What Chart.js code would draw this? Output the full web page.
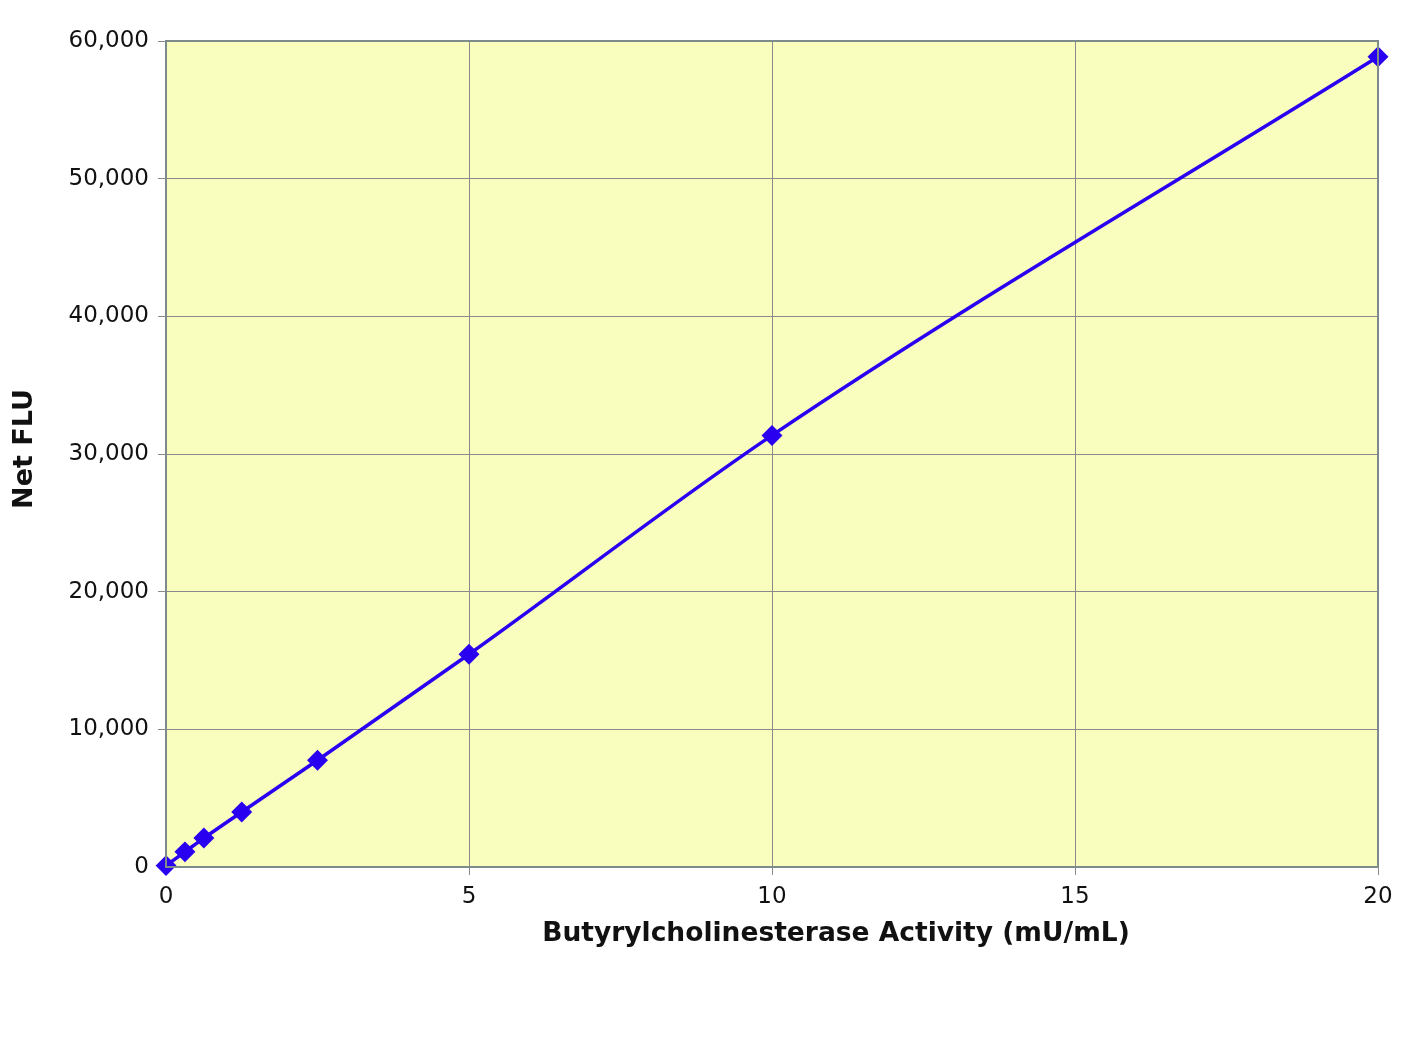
<!DOCTYPE html>
<html>
<head>
<meta charset="utf-8">
<script src="https://cdn.jsdelivr.net/npm/chart.js@4.4.0/dist/chart.umd.min.js"></script>
<style>
  html, body { margin: 0; padding: 0; background: #fff; }
  #wrap { width: 1415px; height: 1039px; }
</style>
</head>
<body>
<div id="wrap"><canvas id="c" width="1415" height="1039"></canvas></div>
<script>
// ===== Data =====
const activity = [0, 0.3125, 0.625, 1.25, 2.5, 5, 10, 20];
const netFlu = [100, 1100, 2100, 4000, 7750, 15450, 31350, 58850];
const xTicks = [0, 5, 10, 15, 20];
const yTicks = [0, 10000, 20000, 30000, 40000, 50000, 60000];
const xTitle = 'Butyrylcholinesterase Activity (mU/mL)';
const yTitle = 'Net FLU';

const FONT = "'DejaVu Sans', 'Noto Sans', sans-serif";

// plot background, frame and axis titles
const plotFrame = {
    id: 'plotFrame',
    beforeDraw(chart) {
        const { ctx, chartArea: a } = chart;
        ctx.save();
        ctx.fillStyle = '#f9fdbe';
        ctx.fillRect(a.left, a.top, a.right - a.left, a.bottom - a.top);
        ctx.restore();
    },
    afterDatasetsDraw(chart) {
        const { ctx, chartArea: a } = chart;
        ctx.save();
        ctx.strokeStyle = '#7e8b8b';
        ctx.lineWidth = 2;
        ctx.strokeRect(a.left, a.top, a.right - a.left, a.bottom - a.top);
        ctx.restore();
    },
    afterDraw(chart) {
        const { ctx } = chart;
        ctx.save();
        ctx.fillStyle = '#111';
        ctx.font = "bold 26.5px " + FONT;
        ctx.textAlign = 'center';
        ctx.textBaseline = 'middle';
        ctx.fillText(xTitle, 836, 934);
        ctx.translate(25, 449);
        ctx.rotate(-Math.PI / 2);
        ctx.font = "bold 27px " + FONT;
        ctx.fillText(yTitle, 0, 0);
        ctx.restore();
    }
};

new Chart(document.getElementById('c'), {
    type: 'scatter',
    data: {
        datasets: [{
            data: activity.map((x, i) => ({ x, y: netFlu[i] })),
            showLine: true,
            borderColor: '#2a00f0',
            backgroundColor: '#2a00f0',
            borderWidth: 3.5,
            cubicInterpolationMode: 'monotone',
            pointStyle: 'rectRot',
            pointRadius: 8,
            pointHoverRadius: 8,
            clip: false
        }]
    },
    options: {
        responsive: false,
        animation: false,
        layout: { padding: { left: 0, top: 41, right: 37, bottom: 82 } },
        plugins: { legend: { display: false }, tooltip: { enabled: false } },
        scales: {
            x: {
                type: 'linear', min: 0, max: 20,
                afterBuildTicks: s => { s.ticks = xTicks.map(v => ({ value: v })); },
                afterFit: s => { s.height = 90; },
                grid: { color: '#8a8a8a', lineWidth: 1, tickLength: 8, drawTicks: true },
                border: { display: false },
                ticks: { color: '#111', font: { family: FONT, size: 23 }, padding: 8, maxRotation: 0 }
            },
            y: {
                type: 'linear', min: 0, max: 60000,
                afterBuildTicks: s => { s.ticks = yTicks.map(v => ({ value: v })); },
                afterFit: s => { s.width = 166; },
                grid: { color: '#8a8a8a', lineWidth: 1, tickLength: 8, drawTicks: true },
                border: { display: false },
                ticks: { color: '#111', font: { family: FONT, size: 23 }, padding: 9 }
            }
        }
    },
    plugins: [plotFrame]
});
</script>
</body>
</html>
